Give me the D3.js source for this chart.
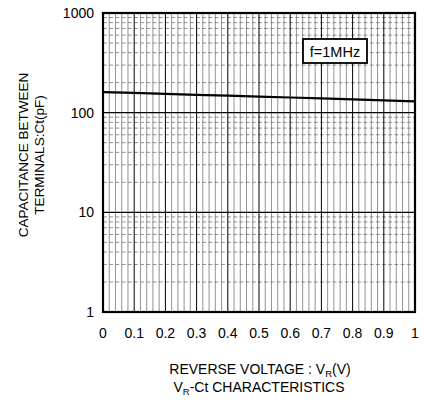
<!DOCTYPE html>
<html>
<head>
<meta charset="utf-8">
<script src="https://cdn.jsdelivr.net/npm/d3@7"></script>
<style>
  body { margin: 0; background: #fff; }
  text { font-family: "Liberation Sans", Arial, sans-serif; fill: #000; }
</style>
</head>
<body>
<div id="chart"></div>
<script>
// V_R - Ct characteristics
const voltage = [0, 0.1, 0.2, 0.3, 0.4, 0.5, 0.6, 0.7, 0.8, 0.9, 1.0];
const capacitance = [161, 158, 154.5, 151, 148, 145, 142, 139, 136, 133, 130];
const xTicks = [0, 0.1, 0.2, 0.3, 0.4, 0.5, 0.6, 0.7, 0.8, 0.9, 1];
const yTicks = [1, 10, 100, 1000];
const legendText = "f=1MHz";

const width = 424, height = 403;
const margin = { top: 13, right: 9, bottom: 91, left: 103 };

const svg = d3.select("#chart").append("svg")
  .attr("width", width)
  .attr("height", height);

const x = d3.scaleLinear()
  .domain([0, 1])
  .range([margin.left, width - margin.right]);

const y = d3.scaleLog()
  .domain([1, 1000])
  .range([height - margin.bottom, margin.top]);

// minor grid: verticals every 0.02, horizontals at 2..9 in each decade
const minorX = d3.range(1, 50).map(i => i / 50).filter(v => Math.round(v * 50) % 5 !== 0);
const minorY = [];
[1, 10, 100].forEach(d => { for (let k = 2; k <= 9; k++) minorY.push(d * k); });

const grid = svg.append("g");

grid.selectAll(".vminor")
  .data(minorX)
  .join("line")
  .attr("x1", d => x(d)).attr("x2", d => x(d))
  .attr("y1", y(1)).attr("y2", y(1000))
  .attr("stroke", "#666")
  .attr("stroke-width", 0.7);

grid.selectAll(".hminor")
  .data(minorY)
  .join("line")
  .attr("x1", x(0)).attr("x2", x(1))
  .attr("y1", d => y(d)).attr("y2", d => y(d))
  .attr("stroke", "#666")
  .attr("stroke-width", 0.7)
  .attr("stroke-dasharray", "4,2.2");

grid.selectAll(".vmajor")
  .data(xTicks.slice(1, -1))
  .join("line")
  .attr("x1", d => x(d)).attr("x2", d => x(d))
  .attr("y1", y(1)).attr("y2", y(1000))
  .attr("stroke", "#000")
  .attr("stroke-width", 1);

grid.selectAll(".hmajor")
  .data(yTicks.slice(1, -1))
  .join("line")
  .attr("x1", x(0)).attr("x2", x(1))
  .attr("y1", d => y(d)).attr("y2", d => y(d))
  .attr("stroke", "#000")
  .attr("stroke-width", 1.2);

// frame
svg.append("rect")
  .attr("x", x(0)).attr("y", y(1000))
  .attr("width", x(1) - x(0))
  .attr("height", y(1) - y(1000))
  .attr("fill", "none")
  .attr("stroke", "#000")
  .attr("stroke-width", 2.2);

// curve
const line = d3.line()
  .x((d, i) => x(voltage[i]))
  .y(d => y(d));

svg.append("path")
  .datum(capacitance)
  .attr("d", line)
  .attr("fill", "none")
  .attr("stroke", "#000")
  .attr("stroke-width", 2.2);

// legend box
const lg = svg.append("g").attr("transform", "translate(303,39)");
lg.append("rect")
  .attr("width", 64).attr("height", 24)
  .attr("fill", "#fff")
  .attr("stroke", "#000")
  .attr("stroke-width", 1.8);
lg.append("text")
  .attr("x", 32).attr("y", 17.5)
  .attr("text-anchor", "middle")
  .attr("font-size", 14.5)
  .text(legendText);

// tick labels
svg.append("g")
  .selectAll("text")
  .data(xTicks)
  .join("text")
  .attr("x", d => x(d))
  .attr("y", 338)
  .attr("text-anchor", "middle")
  .attr("font-size", 14)
  .text(d => d3.format("~g")(d));

svg.append("g")
  .selectAll("text")
  .data(yTicks)
  .join("text")
  .attr("x", 94)
  .attr("y", d => y(d))
  .attr("dy", "0.35em")
  .attr("text-anchor", "end")
  .attr("font-size", 14)
  .text(d => d);

// x axis title
const xt = svg.append("text")
  .attr("x", 260).attr("y", 374)
  .attr("text-anchor", "middle")
  .attr("font-size", 14);
xt.append("tspan").text("REVERSE VOLTAGE : V");
xt.append("tspan").attr("font-size", 9.5).attr("dy", 2.5).text("R");
xt.append("tspan").attr("dy", -2.5).text("(V)");

const st = svg.append("text")
  .attr("x", 259).attr("y", 392)
  .attr("text-anchor", "middle")
  .attr("font-size", 14);
st.append("tspan").text("V");
st.append("tspan").attr("font-size", 9.5).attr("dy", 2.5).text("R");
st.append("tspan").attr("dy", -2.5).text("-Ct CHARACTERISTICS");

// y axis title
const yt = svg.append("text")
  .attr("transform", "translate(28,155) rotate(-90)")
  .attr("text-anchor", "middle")
  .attr("font-size", 13.5);
yt.append("tspan").attr("x", 0).attr("y", 0).text("CAPACITANCE BETWEEN");
yt.append("tspan").attr("x", 0).attr("y", 16).text("TERMINALS:Ct(pF)");
</script>
</body>
</html>
